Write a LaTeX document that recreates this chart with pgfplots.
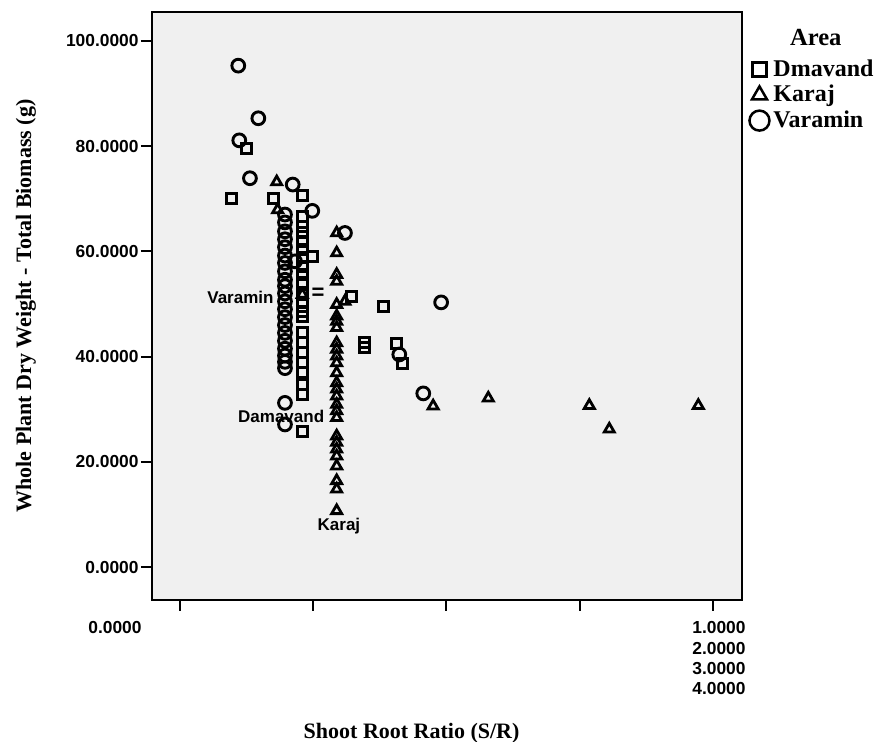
\documentclass[border=0pt]{standalone}
\usepackage{fontspec}
\setmainfont{Liberation Serif}
\newfontfamily\arialfont{Liberation Sans}
\usepackage{pgfplots}
\pgfplotsset{compat=1.18}
\usepackage{pgfplotstable}
\definecolor{bg}{HTML}{F0F0F0}

\pgfplotstableread{
x y
0.4375 95.3
0.588 85.3
0.445 81.1
0.525 73.9
0.846 72.7
0.993 67.7
1.238 63.5
0.863 58.1
1.96 50.3
1.646 40.4
1.826 33.0
0.788 67.0
0.788 65.5
0.788 63.8
0.788 62.3
0.788 60.8
0.788 59.2
0.788 57.8
0.788 56.2
0.788 54.6
0.788 53.4
0.788 52.0
0.788 50.5
0.788 49.0
0.788 47.5
0.788 46.0
0.788 44.5
0.788 43.0
0.788 41.5
0.788 40.2
0.788 39.0
0.788 37.8
0.788 31.2
0.788 27.1
}\varamin

\pgfplotstableread{
x y
0.39 70.0
0.50 79.6
0.70 70.1
0.918 70.6
0.996 59.0
1.29 51.4
1.388 42.6
1.388 41.7
1.53 49.6
1.626 42.4
1.668 38.7
0.918 66.7
0.918 64.8
0.918 63.5
0.918 61.9
0.918 60.3
0.918 58.8
0.918 57.2
0.918 55.6
0.918 54.0
0.918 51.8
0.918 50.2
0.918 48.6
0.918 47.7
0.918 44.5
0.918 42.6
0.918 40.7
0.918 38.8
0.918 36.9
0.918 34.7
0.918 32.8
0.918 25.7
}\dmavand

\pgfplotstableread{
x y
0.726 73.2
0.733 67.9
0.918 51.8
1.238 50.5
1.90 30.6
2.314 32.1
3.072 30.7
3.222 26.2
3.89 30.7
1.176 63.5
1.176 59.7
1.176 55.6
1.176 54.3
1.176 49.9
1.176 47.7
1.176 46.7
1.176 45.5
1.176 42.6
1.176 41.4
1.176 40.1
1.176 38.8
1.176 36.9
1.176 35.0
1.176 33.8
1.176 32.5
1.176 30.9
1.176 29.7
1.176 28.4
1.176 24.9
1.176 23.7
1.176 22.4
1.176 21.1
1.176 19.2
1.176 16.4
1.176 14.8
1.176 10.7
}\karaj

\begin{document}
\begin{tikzpicture}
\begin{axis}[
  at={(0,0)}, anchor=south west,
  scale only axis, width=295pt, height=294pt,
  xmin=-0.21, xmax=4.218, ymin=-6.27, ymax=105.5,
  axis background/.style={fill=bg},
  axis line style={line width=0.8pt},
  clip=false,
  xtick={0,1,2,3,4}, xticklabels={},
  ytick={0,20,40,60,80,100},
  yticklabels={0.0000,20.0000,40.0000,60.0000,80.0000,100.0000},
  xtick pos=bottom, ytick pos=left,
  tick align=outside,
  major tick length=5.5pt,
  tick style={line width=1pt, black},
  yticklabel style={font=\arialfont\bfseries\fontsize{8.7}{10}\selectfont, inner xsep=1pt},
  ylabel={\bfseries Whole Plant Dry Weight - Total Biomass (g)},
  ylabel style={font=\fontsize{11}{13}\selectfont, at={(axis description cs:-0.2136,0.5)}, anchor=center, rotate=0},
  xlabel={\bfseries Shoot Root Ratio (S/R)},
  xlabel style={font=\fontsize{11}{13}\selectfont, at={(axis description cs:0.44,-0.226)}, anchor=center},
  legend style={at={(axis description cs:1.012,0.925)}, anchor=north west, draw=none, fill=none,
    font=\fontsize{12}{14}\selectfont\bfseries, row sep=0pt, inner sep=0pt,
    nodes={inner xsep=2pt, inner ysep=1.5pt}},
  legend cell align=left,
]
\addplot[only marks, mark=o, mark size=3.2pt, line width=1.45pt, black, forget plot] table[x=x,y=y] {\varamin};
\addplot[only marks, mark=square, mark size=2.5pt, line width=1.45pt, black, forget plot] table[x=x,y=y] {\dmavand};
\addplot[only marks, mark=triangle, mark size=2.9pt, line width=1.4pt, black, forget plot] table[x=x,y=y] {\karaj};

\addlegendimage{only marks, mark=square, mark size=3.5pt, line width=1.25pt, black}
\addlegendentry{Dmavand}
\addlegendimage{only marks, mark=triangle, mark size=4.3pt, line width=1.25pt, black}
\addlegendentry{Karaj}
\addlegendimage{only marks, mark=o, mark size=5pt, line width=1.25pt, black}
\addlegendentry{Varamin}

\node[font=\fontsize{12.3}{14}\selectfont\bfseries] at (axis description cs:1.125,0.957) {Area};

\node[anchor=east, inner sep=1pt, font=\arialfont\bfseries\fontsize{8.5}{10}\selectfont] at (axis cs:0.72,51.2) {Varamin};
\node[anchor=east, inner sep=1pt, font=\arialfont\bfseries\fontsize{8.5}{10}\selectfont] at (axis cs:1.10,28.6) {Damavand};
\node[anchor=center, inner sep=1pt, font=\arialfont\bfseries\fontsize{8.5}{10}\selectfont] at (axis cs:1.193,7.8) {Karaj};
\node[anchor=center, inner sep=0pt, font=\arialfont\bfseries\fontsize{11}{12}\selectfont] at (axis cs:1.036,51.9) {=};

\node[anchor=north, inner sep=0pt, font=\arialfont\bfseries\fontsize{8.7}{10}\selectfont] at (axis cs:-0.488,-10.3) {0.0000};
\node[anchor=north east, inner sep=0pt, align=right, font=\arialfont\bfseries\fontsize{8.7}{10.2}\selectfont] at (axis cs:4.248,-10.3) {1.0000\\2.0000\\3.0000\\4.0000};
\end{axis}
\pgfresetboundingbox
\path[use as bounding box] (-76pt,300pt) rectangle (365pt,-71pt);
\end{tikzpicture}
\end{document}
